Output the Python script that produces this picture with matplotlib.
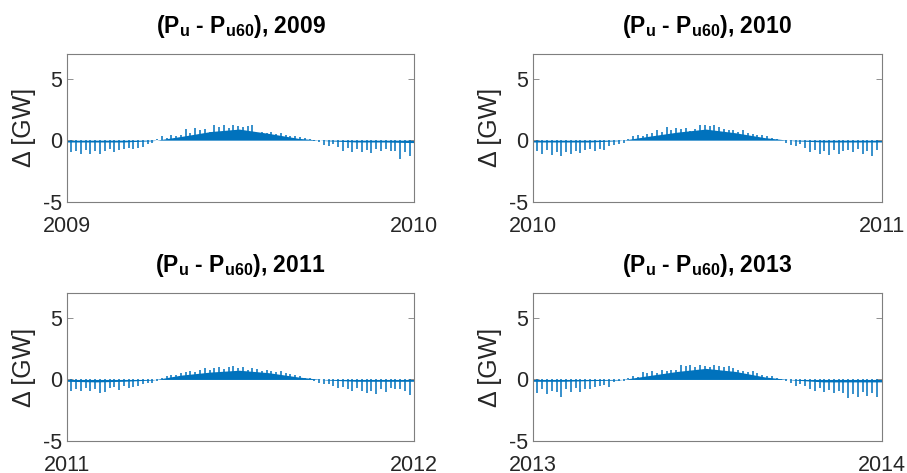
import matplotlib
matplotlib.use("Agg")
import matplotlib.pyplot as plt

plt.rcParams['font.family'] = ['Liberation Sans', 'DejaVu Sans']
plt.rcParams['mathtext.fontset'] = 'custom'
plt.rcParams['mathtext.rm'] = 'Liberation Sans:bold'
plt.rcParams['mathtext.bf'] = 'Liberation Sans:bold'
plt.rcParams['mathtext.it'] = 'Liberation Sans:bold'
plt.rcParams['mathtext.default'] = 'bf'
plt.rcParams['axes.unicode_minus'] = False

years = [2009, 2010, 2011, 2013]

# day of year of each sample (every 5 days)
days = list(range(0, 365, 5))
# day of year for the dense band (month starts + year end)
band_days = [0, 31, 59, 90, 120, 151, 181, 212, 243, 273, 304, 334, 365]

# extreme daily deviation [GW], read every 5 days
peak_2009 = [-1.3, -1.0, -0.9, -1.1, -0.8, -1.15, -0.9, -1.1, -0.9, -0.7,
             -0.95, -0.8, -0.75, -0.6, -0.7, -0.6, -0.55, -0.3, -0.2, 0.1,
             0.3, 0.2, 0.4, 0.35, 0.45, 0.9, 0.6, 0.95, 0.8, 0.9,
             0.7, 1.2, 1.1, 1.25, 1.0, 1.2, 1.15, 1.1, 1.15, 1.2,
             0.6, 0.7, 0.6, 0.65, 0.5, 0.55, 0.4, 0.3, 0.35, 0.25,
             0.15, 0.1, -0.1, -0.15, -0.4, -0.5, -0.3, -0.55, -0.9, -0.6,
             -1.0, -0.7, -1.0, -0.8, -1.05, -0.7, -0.9, -0.7, -0.85, -0.9,
             -1.55, -1.0, -1.3]
peak_2010 = [-1.3, -0.9, -1.1, -0.8, -1.2, -1.0, -1.3, -1.0, -1.1, -0.9,
             -1.05, -0.8, -0.75, -0.9, -0.7, -0.8, -0.5, -0.4, -0.3, -0.2,
             0.1, 0.3, 0.45, 0.35, 0.5, 0.6, 0.85, 0.7, 1.05, 0.8,
             1.0, 0.9, 1.0, 0.75, 0.9, 1.25, 1.2, 1.15, 1.2, 1.1,
             0.9, 0.8, 0.85, 0.7, 0.8, 0.6, 0.5, 0.4, 0.45, 0.3,
             0.2, 0.1, 0.05, -0.2, -0.4, -0.5, -0.35, -0.6, -1.0, -0.8,
             -1.15, -0.9, -1.2, -0.8, -1.1, -0.9, -0.8, -0.95, -0.7, -1.15,
             -0.9, -1.25, -0.8]
peak_2011 = [-1.2, -0.9, -0.8, -0.95, -0.7, -0.9, -0.8, -1.1, -1.05, -0.7,
             -0.6, -0.85, -0.5, -0.7, -0.65, -0.55, -0.4, -0.3, -0.25, -0.1,
             0.15, 0.3, 0.35, 0.4, 0.55, 0.6, 0.7, 0.6, 0.8, 0.95,
             0.75, 0.9, 1.0, 0.85, 1.05, 1.1, 0.9, 1.05, 0.8, 0.9,
             0.85, 0.7, 0.75, 0.65, 0.6, 0.7, 0.5, 0.45, 0.4, 0.3,
             0.15, 0.1, -0.1, -0.25, -0.35, -0.4, -0.5, -0.7, -0.6, -0.75,
             -0.9, -0.7, -0.95, -1.1, -0.9, -1.15, -0.8, -1.0, -0.7, -0.8,
             -0.75, -0.9, -1.3]
peak_2013 = [-1.2, -1.1, -0.8, -1.2, -0.9, -1.0, -1.4, -0.8, -1.0, -0.7,
             -1.05, -0.75, -0.8, -0.6, -0.55, -0.45, -0.6, -0.2, -0.15, -0.1,
             0.1, 0.25, 0.2, 0.6, 0.5, 0.7, 0.55, 0.8, 0.65, 0.8,
             0.75, 1.15, 1.1, 1.15, 1.0, 1.15, 1.1, 1.05, 1.15, 1.1,
             1.0, 1.1, 0.9, 0.8, 0.7, 0.6, 0.7, 0.5, 0.35, 0.3,
             0.25, 0.1, -0.05, -0.1, -0.3, -0.5, -0.4, -0.55, -0.8, -0.95,
             -0.7, -1.0, -0.85, -1.1, -0.9, -1.1, -1.5, -1.2, -1.45, -1.0,
             -1.35, -1.1, -1.4]

# typical (dense) daily deviation [GW]
band_2009 = [-0.15, -0.15, -0.15, -0.05, 0.3, 0.7, 0.9, 0.55, 0.15, -0.05, -0.15, -0.15, -0.2]
band_2010 = [-0.15, -0.15, -0.15, -0.05, 0.3, 0.65, 0.9, 0.6, 0.2, -0.05, -0.15, -0.15, -0.15]
band_2011 = [-0.15, -0.2, -0.15, -0.05, 0.35, 0.6, 0.75, 0.55, 0.2, -0.05, -0.15, -0.15, -0.15]
band_2013 = [-0.15, -0.15, -0.1, -0.05, 0.3, 0.65, 0.9, 0.65, 0.2, -0.05, -0.2, -0.2, -0.2]

peaks = [peak_2009, peak_2010, peak_2011, peak_2013]
bands = [band_2009, band_2010, band_2011, band_2013]

col = '#0072BD'
fig = plt.figure(figsize=(9.07, 4.73), dpi=100)
pos = [[0.0735, 0.5736, 0.3833, 0.3122], [0.5873, 0.5736, 0.3848, 0.3122],
       [0.0735, 0.0677, 0.3833, 0.3122], [0.5873, 0.0677, 0.3848, 0.3122]]

for i, yr in enumerate(years):
    ax = fig.add_axes(pos[i])
    ax.fill_between(band_days, 0, bands[i], color=col, lw=0)
    ax.vlines(days, 0, peaks[i], color=col, lw=1.1)
    ax.set_xlim(0, 365)
    ax.set_ylim(-5, 7)
    ax.set_yticks([-5, 0, 5])
    ax.set_xticks([0, 365])
    ax.set_xticklabels([str(yr), str(yr + 1)])
    ax.tick_params(direction='in', length=4, width=0.6, colors='#7f7f7f',
                   labelcolor='#262626', labelsize=15.5, right=True, top=False)
    ax.tick_params(axis='y', pad=3)
    ax.tick_params(axis='x', length=0, pad=10)
    for s in ax.spines.values():
        s.set_color('#7f7f7f')
        s.set_linewidth(0.8)
    ax.set_ylabel('Δ [GW]', fontsize=18, color='#262626', labelpad=5)
    ax.set_title('(P$_{u}$ - P$_{u60}$), %d' % yr, fontsize=16.5,
                 fontweight='bold', color='black', pad=15)

plt.savefig('out.png', dpi=100)
